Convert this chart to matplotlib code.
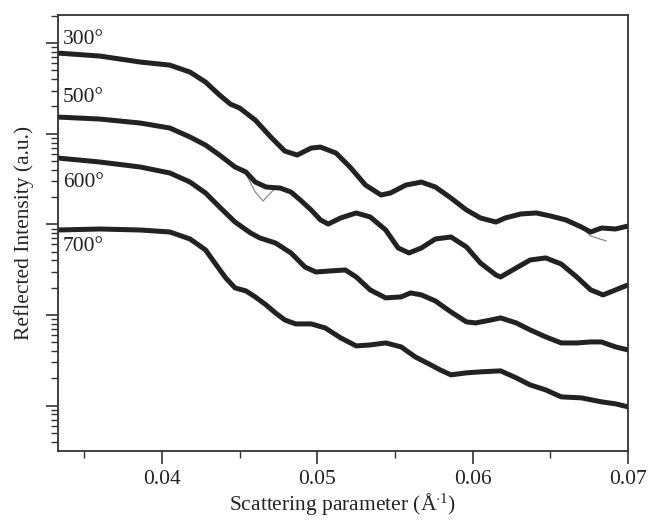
"""
Specular reflectivity curves for films annealed at 300-700 degrees,
measured data (thick band) with fitted model (thin grey line), log scale.
"""
import matplotlib
matplotlib.use('Agg')
import matplotlib.pyplot as plt
import numpy as np

plt.rcParams['font.family'] = ['Liberation Serif', 'DejaVu Serif']
plt.rcParams['mathtext.fontset'] = 'custom'
plt.rcParams['mathtext.rm'] = 'Liberation Serif'
plt.rcParams['mathtext.it'] = 'Liberation Serif:italic'

# ---- data (intensity stored as log10, arbitrary units) ----

q_300 = [0.0333, 0.0360, 0.0386, 0.0405, 0.0418, 0.0428, 0.0437, 0.0444, 0.0450,
         0.0460, 0.0470, 0.0479, 0.0487, 0.0496, 0.0502, 0.0512, 0.0521, 0.0531,
         0.0541, 0.0547, 0.0557, 0.0567, 0.0576, 0.0586, 0.0596, 0.0605, 0.0615,
         0.0621, 0.0631, 0.0641, 0.0650, 0.0660, 0.0670, 0.0676, 0.0683, 0.0692,
         0.0700]
logi_300 = [3.890, 3.857, 3.791, 3.757, 3.680, 3.570, 3.427, 3.327, 3.283,
            3.151, 2.964, 2.809, 2.765, 2.842, 2.853, 2.787, 2.633, 2.434,
            2.324, 2.346, 2.434, 2.467, 2.412, 2.291, 2.159, 2.071, 2.026,
            2.071, 2.115, 2.126, 2.093, 2.049, 1.971, 1.916, 1.960, 1.949,
            1.982]

fit_q_300 = [0.0333, 0.0360, 0.0386, 0.0405, 0.0418, 0.0428, 0.0437, 0.0444, 0.0450,
             0.0460, 0.0470, 0.0479, 0.0487, 0.0496, 0.0502, 0.0512, 0.0521, 0.0531,
             0.0541, 0.0547, 0.0557, 0.0567, 0.0576, 0.0586, 0.0596, 0.0605, 0.0615,
             0.0621, 0.0631, 0.0641, 0.0650, 0.0660, 0.0670, 0.0676, 0.0686]
fit_logi_300 = [3.890, 3.857, 3.791, 3.757, 3.680, 3.570, 3.427, 3.327, 3.270,
                3.130, 2.950, 2.805, 2.765, 2.842, 2.853, 2.787, 2.633, 2.434,
                2.324, 2.346, 2.434, 2.467, 2.412, 2.291, 2.159, 2.071, 2.026,
                2.071, 2.115, 2.126, 2.093, 2.049, 1.971, 1.872, 1.817]

q_500 = [0.0333, 0.0360, 0.0386, 0.0405, 0.0418, 0.0428, 0.0437, 0.0447, 0.0454,
         0.0460, 0.0467, 0.0476, 0.0483, 0.0489, 0.0496, 0.0502, 0.0507, 0.0515,
         0.0525, 0.0534, 0.0544, 0.0552, 0.0559, 0.0567, 0.0576, 0.0586, 0.0596,
         0.0605, 0.0615, 0.0618, 0.0628, 0.0637, 0.0647, 0.0657, 0.0667, 0.0676,
         0.0684, 0.0692, 0.0700]
logi_500 = [3.184, 3.162, 3.118, 3.063, 2.964, 2.875, 2.765, 2.633, 2.578,
            2.467, 2.412, 2.401, 2.357, 2.269, 2.159, 2.049, 2.004, 2.071,
            2.126, 2.082, 1.938, 1.740, 1.685, 1.740, 1.839, 1.861, 1.751,
            1.574, 1.442, 1.420, 1.519, 1.607, 1.630, 1.563, 1.420, 1.277,
            1.222, 1.277, 1.332]

fit_q_500 = [0.0333, 0.0360, 0.0386, 0.0405, 0.0418, 0.0428, 0.0437, 0.0447, 0.0454,
             0.0460, 0.0465, 0.0468, 0.0473, 0.0476, 0.0483, 0.0489, 0.0496, 0.0502,
             0.0507, 0.0515, 0.0525, 0.0534, 0.0544, 0.0552, 0.0559, 0.0567, 0.0576,
             0.0586, 0.0596, 0.0605, 0.0615, 0.0618, 0.0628, 0.0637, 0.0647, 0.0657,
             0.0667, 0.0676, 0.0684, 0.0692, 0.0700]
fit_logi_500 = [3.184, 3.162, 3.118, 3.063, 2.964, 2.875, 2.765, 2.633, 2.556,
                2.357, 2.258, 2.313, 2.401, 2.401, 2.357, 2.269, 2.159, 2.049,
                2.004, 2.071, 2.126, 2.082, 1.938, 1.740, 1.685, 1.740, 1.839,
                1.861, 1.751, 1.574, 1.442, 1.420, 1.519, 1.607, 1.630, 1.563,
                1.420, 1.277, 1.222, 1.277, 1.332]

q_600 = [0.0333, 0.0360, 0.0386, 0.0405, 0.0418, 0.0428, 0.0437, 0.0447, 0.0457,
         0.0463, 0.0473, 0.0483, 0.0492, 0.0499, 0.0508, 0.0518, 0.0525, 0.0534,
         0.0544, 0.0554, 0.0560, 0.0567, 0.0576, 0.0586, 0.0596, 0.0602, 0.0612,
         0.0618, 0.0628, 0.0637, 0.0647, 0.0657, 0.0667, 0.0676, 0.0683, 0.0692,
         0.0700]
logi_600 = [2.732, 2.688, 2.633, 2.567, 2.467, 2.346, 2.192, 2.026, 1.905,
            1.850, 1.795, 1.685, 1.530, 1.475, 1.486, 1.497, 1.420, 1.277,
            1.189, 1.200, 1.244, 1.222, 1.155, 1.034, 0.924, 0.913, 0.946,
            0.968, 0.913, 0.836, 0.759, 0.692, 0.692, 0.703, 0.703, 0.648,
            0.615]

q_700 = [0.0333, 0.0360, 0.0386, 0.0405, 0.0418, 0.0428, 0.0434, 0.0441, 0.0447,
         0.0454, 0.0460, 0.0467, 0.0473, 0.0479, 0.0486, 0.0496, 0.0505, 0.0515,
         0.0525, 0.0534, 0.0544, 0.0554, 0.0563, 0.0573, 0.0579, 0.0586, 0.0596,
         0.0605, 0.0618, 0.0628, 0.0637, 0.0647, 0.0657, 0.0670, 0.0683, 0.0692,
         0.0700]
logi_700 = [1.938, 1.949, 1.938, 1.916, 1.839, 1.718, 1.574, 1.409, 1.299,
            1.266, 1.200, 1.111, 1.023, 0.946, 0.902, 0.902, 0.858, 0.748,
            0.659, 0.670, 0.692, 0.648, 0.538, 0.450, 0.395, 0.340, 0.362,
            0.373, 0.384, 0.307, 0.229, 0.174, 0.097, 0.086, 0.042, 0.020,
            -0.013]

temperatures = ['300°', '500°', '600°', '700°']
label_logi = [4.04, 3.40, 2.46, 1.76]


def main():
    fig = plt.figure(figsize=(6.49, 5.23), dpi=100)
    ax = fig.add_axes([0.0894, 0.1377, 0.8782, 0.8336])

    curves = [(q_300, logi_300, fit_q_300, fit_logi_300),
              (q_500, logi_500, fit_q_500, fit_logi_500),
              (q_600, logi_600, q_600, logi_600),
              (q_700, logi_700, q_700, logi_700)]

    for q, li, fq, fli in curves:
        ax.plot(q, 10 ** np.array(li), color='#222222', lw=3.6,
                solid_joinstyle='round', solid_capstyle='round', zorder=2)
        ax.plot(fq, 10 ** np.array(fli), color='#8c8c8c', lw=0.9, zorder=1)

    for t, y in zip(temperatures, label_logi):
        ax.text(0.0336, 10 ** y, t, fontsize=15.5, ha='left', va='center',
                color='#222222')

    ax.set_yscale('log')
    ax.set_xlim(0.0333, 0.0700)
    ax.set_ylim(10 ** -0.5, 10 ** 4.31)
    ax.set_xticks([0.04, 0.05, 0.06, 0.07])
    ax.set_xticklabels(['0.04', '0.05', '0.06', '0.07'])
    ax.set_xticks([0.035, 0.045, 0.055, 0.065], minor=True)
    ax.set_yticks([1, 10, 100, 1000, 10000])
    ax.yaxis.set_major_formatter(plt.NullFormatter())
    ax.yaxis.set_minor_formatter(plt.NullFormatter())

    ax.tick_params(which='major', direction='out', length=9, width=1.2,
                   labelsize=15.5, colors='#333333', labelcolor='#222222', pad=5)
    ax.tick_params(which='minor', direction='out', length=5, width=1.0,
                   colors='#333333')
    for s in ax.spines.values():
        s.set_linewidth(1.3)
        s.set_color('#333333')

    ax.set_xlabel(r'Scattering parameter ($\mathrm{\AA}^{\cdot 1}$)',
                  fontsize=15.5, color='#222222', labelpad=1)
    ax.set_ylabel('Reflected Intensity (a.u.)', fontsize=15.5, color='#222222',
                  labelpad=3)

    fig.savefig('out.png', dpi=100)
    plt.close(fig)


if __name__ == '__main__':
    main()
